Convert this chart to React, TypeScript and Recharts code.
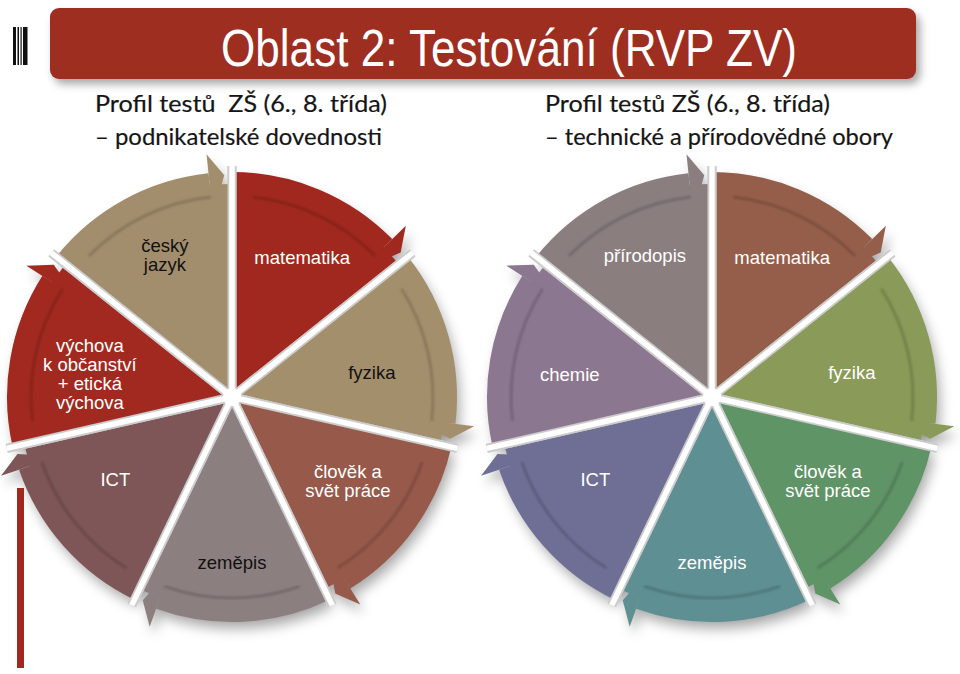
import React from 'react';
import { PieChart, Pie, Cell } from 'recharts';

// ---- data ----
const leftSubjects = ['matematika', 'fyzika', 'člověk a\nsvět práce', 'zeměpis', 'ICT', 'výchova\nk občanství\n+ etická\nvýchova', 'český\njazyk'];
const leftValues = [1, 1, 1, 1, 1, 1, 1];
const rightSubjects = ['matematika', 'fyzika', 'člověk a\nsvět práce', 'zeměpis', 'ICT', 'chemie', 'přírodopis'];
const rightValues = [1, 1, 1, 1, 1, 1, 1];
const titleText = 'Oblast 2: Testování (RVP ZV)';
const leftHeading = ['Profil testů  ZŠ (6., 8. třída)', '– podnikatelské dovednosti'];
const rightHeading = ['Profil testů ZŠ (6., 8. třída)', '– technické a přírodovědné obory'];

// ---- styles / layout ----
const LEFT_COLORS = ['#A1281E', '#A48F6C', '#97594A', '#8C7F80', '#7E5657', '#A2291F', '#A28E6D'];
const LEFT_TEXT = ['#ffffff', '#111111', '#ffffff', '#111111', '#ffffff', '#ffffff', '#111111'];
const RIGHT_COLORS = ['#955E4B', '#8A9A58', '#5F9467', '#5E8F92', '#6F6E95', '#8C7791', '#8A7E7F'];
const RIGHT_TEXT = ['#ffffff', '#ffffff', '#ffffff', '#ffffff', '#ffffff', '#ffffff', '#ffffff'];
const LABEL_R = [156, 142, 143, 165, 143, 144, 157];
const LABEL_ANGLE_SHIFT = [-1, -2.8, 2.7, 0, -3.2, 3.7, -0.4];

const leftData = leftSubjects.map((name, i) => ({ name, value: leftValues[i] }));
const rightData = rightSubjects.map((name, i) => ({ name, value: rightValues[i] }));

const RAD = Math.PI / 180;
const pt = (cx: number, cy: number, r: number, a: number) => [cx + r * Math.cos(a * RAD), cy - r * Math.sin(a * RAD)];
const f = (p: number[]) => `${p[0].toFixed(2)},${p[1].toFixed(2)}`;

function segmentPaths(props: any) {
  const { cx, cy, outerRadius: R, startAngle: s, endAngle: e } = props;
  const dir = s > e ? 1 : -1;
  const sweep = s > e ? 1 : 0;
  const Rb = R - 12;
  const eb = e + dir * 6;
  const r1 = R - 25;
  const body = `M${cx},${cy} L${f(pt(cx, cy, Rb, s))} A${Rb},${Rb} 0 0 ${sweep} ${f(pt(cx, cy, Rb, e))} Z`;
  const band = `M${f(pt(cx, cy, R, s))} A${R},${R} 0 0 ${sweep} ${f(pt(cx, cy, R, eb))} L${f(pt(cx, cy, r1, eb))} A${r1},${r1} 0 0 ${1 - sweep} ${f(pt(cx, cy, r1, s))} Z`;
  const head = `M${f(pt(cx, cy, R + 19, eb))} L${f(pt(cx, cy, R - 3, e + dir * 2))} L${f(pt(cx, cy, R - 42, eb))} Z`;
  const shade = `M${f(pt(cx, cy, r1 + 1, s - dir * 6))} A${r1 + 1},${r1 + 1} 0 0 ${sweep} ${f(pt(cx, cy, r1 + 1, eb))}`;
  const gapS = [pt(cx, cy, 0, s), pt(cx, cy, R + 6, s)];
  const gapE = [pt(cx, cy, 0, e), pt(cx, cy, R + 6, e)];
  return { body, band, head, shade, gapS, gapE, cx, cy };
}

function CycleSegment(props: any) {
  const { fill } = props;
  const p = segmentPaths(props);
  const gap = (g: number[][], k: string) => (
    <g key={k}>
      <line x1={g[0][0]} y1={g[0][1]} x2={g[1][0]} y2={g[1][1]} stroke="#cccccc" strokeWidth={9} />
      <line x1={g[0][0]} y1={g[0][1]} x2={g[1][0]} y2={g[1][1]} stroke="#ffffff" strokeWidth={5.5} />
    </g>
  );
  return (
    <g>
      <path d={p.body} fill={fill} />
      <path d={p.band} fill={fill} />
      <path d={p.head} fill={fill} />
      <path d={p.shade} fill="none" stroke="rgba(0,0,0,0.16)" strokeWidth={3} filter="url(#softBlur)" />
      {gap(p.gapS, 's')}
      {gap(p.gapE, 'e')}
      <circle cx={p.cx} cy={p.cy} r={9} fill="#ffffff" />
    </g>
  );
}

function ShadowSegment(props: any) {
  const p = segmentPaths(props);
  return (
    <g transform="translate(4,8)" filter="url(#shadowBlur)">
      <path d={p.body} fill="#000" fillOpacity={0.28} />
      <path d={p.band} fill="#000" fillOpacity={0.28} />
      <path d={p.head} fill="#000" fillOpacity={0.28} />
    </g>
  );
}

const makeLabel = (names: string[], colors: string[]) => (lp: any) => {
  const { cx, cy, index } = lp;
  const mid = lp.midAngle !== undefined ? lp.midAngle : (lp.startAngle + lp.endAngle) / 2;
  const a = mid + LABEL_ANGLE_SHIFT[index];
  const [x, y0] = pt(cx, cy, LABEL_R[index], a);
  const lines = names[index].split('\n');
  const lh = 19;
  const y = y0 - ((lines.length - 1) * lh) / 2 + 6.5;
  return (
    <text x={x} y={y} textAnchor="middle" fill={colors[index]} fontFamily="'Liberation Sans', Arial, sans-serif" fontSize={18.5}>
      {lines.map((l, i) => (
        <tspan key={i} x={x} dy={i === 0 ? 0 : lh}>{l}</tspan>
      ))}
    </text>
  );
};

const headingFont = "Lato, 'Open Sans', sans-serif";

export default function App() {
  return (
    <div style={{ position: 'absolute', left: 0, top: 0, width: 960, height: 674, background: '#ffffff', overflow: 'hidden' }}>
      <svg width={0} height={0} style={{ position: 'absolute' }}>
        <defs>
          <filter id="shadowBlur" x="-20%" y="-20%" width="140%" height="140%">
            <feGaussianBlur stdDeviation="6" />
          </filter>
          <filter id="softBlur" x="-10%" y="-10%" width="120%" height="120%">
            <feGaussianBlur stdDeviation="1.2" />
          </filter>
          <filter id="bannerShadow" x="-5%" y="-30%" width="110%" height="170%">
            <feGaussianBlur stdDeviation="4" />
          </filter>
        </defs>
      </svg>
      <div style={{ position: 'absolute', left: 0, top: 0 }}>
        <PieChart width={960} height={674} margin={{ top: 0, right: 0, bottom: 0, left: 0 }}>
          <Pie data={leftData} dataKey="value" nameKey="name" cx={232} cy={397} innerRadius={0} outerRadius={225}
            startAngle={90} endAngle={-270} isAnimationActive={false} stroke="none" shape={ShadowSegment} inactiveShape={ShadowSegment} activeShape={ShadowSegment}>
            {leftData.map((d, i) => <Cell key={i} fill={LEFT_COLORS[i]} />)}
          </Pie>
          <Pie data={rightData} dataKey="value" nameKey="name" cx={712} cy={397} innerRadius={0} outerRadius={225}
            startAngle={90} endAngle={-270} isAnimationActive={false} stroke="none" shape={ShadowSegment} inactiveShape={ShadowSegment} activeShape={ShadowSegment}>
            {rightData.map((d, i) => <Cell key={i} fill={RIGHT_COLORS[i]} />)}
          </Pie>
          <Pie data={leftData} dataKey="value" nameKey="name" cx={232} cy={397} innerRadius={0} outerRadius={225}
            startAngle={90} endAngle={-270} isAnimationActive={false} stroke="none"
            shape={CycleSegment} inactiveShape={CycleSegment} activeShape={CycleSegment}
            label={makeLabel(leftSubjects, LEFT_TEXT)} labelLine={false}>
            {leftData.map((d, i) => <Cell key={i} fill={LEFT_COLORS[i]} />)}
          </Pie>
          <Pie data={rightData} dataKey="value" nameKey="name" cx={712} cy={397} innerRadius={0} outerRadius={225}
            startAngle={90} endAngle={-270} isAnimationActive={false} stroke="none"
            shape={CycleSegment} inactiveShape={CycleSegment} activeShape={CycleSegment}
            label={makeLabel(rightSubjects, RIGHT_TEXT)} labelLine={false}>
            {rightData.map((d, i) => <Cell key={i} fill={RIGHT_COLORS[i]} />)}
          </Pie>
        </PieChart>
      </div>
      <svg width={960} height={674} style={{ position: 'absolute', left: 0, top: 0, pointerEvents: 'none' }}>
        {/* banner */}
        <rect x={54} y={14} width={866} height={70} rx={9} fill="#000" fillOpacity={0.35} filter="url(#bannerShadow)" />
        <rect x={50} y={8} width={866} height={71} rx={9} fill="#9E2E20" />
        <text x={509} y={66} textAnchor="middle" fill="#ffffff" fontFamily="'Liberation Sans', Arial, sans-serif" fontSize={52}
          textLength={576} lengthAdjust="spacingAndGlyphs">{titleText}</text>
        {/* barcode-like mark */}
        <rect x={13} y={27} width={3} height={38} fill="#111" />
        <rect x={17.5} y={27} width={1.5} height={38} fill="#111" />
        <rect x={20.5} y={27} width={1.2} height={38} fill="#111" />
        <rect x={23} y={27} width={4.5} height={38} fill="#111" />
        {/* left vertical red line */}
        <rect x={17} y={488} width={7} height={180} fill="#A0281E" />
        {/* headings */}
        <g fill="#151515" stroke="#151515" strokeWidth={0.2} fontFamily={headingFont} fontSize={23.5}>
          <text x={95} y={112} textLength={292} lengthAdjust="spacingAndGlyphs" style={{ whiteSpace: 'pre' }}>{leftHeading[0]}</text>
          <text x={95} y={145} textLength={287} lengthAdjust="spacingAndGlyphs">{leftHeading[1]}</text>
          <text x={545} y={112} textLength={285} lengthAdjust="spacingAndGlyphs">{rightHeading[0]}</text>
          <text x={545} y={145} textLength={348} lengthAdjust="spacingAndGlyphs">{rightHeading[1]}</text>
        </g>
      </svg>
    </div>
  );
}
